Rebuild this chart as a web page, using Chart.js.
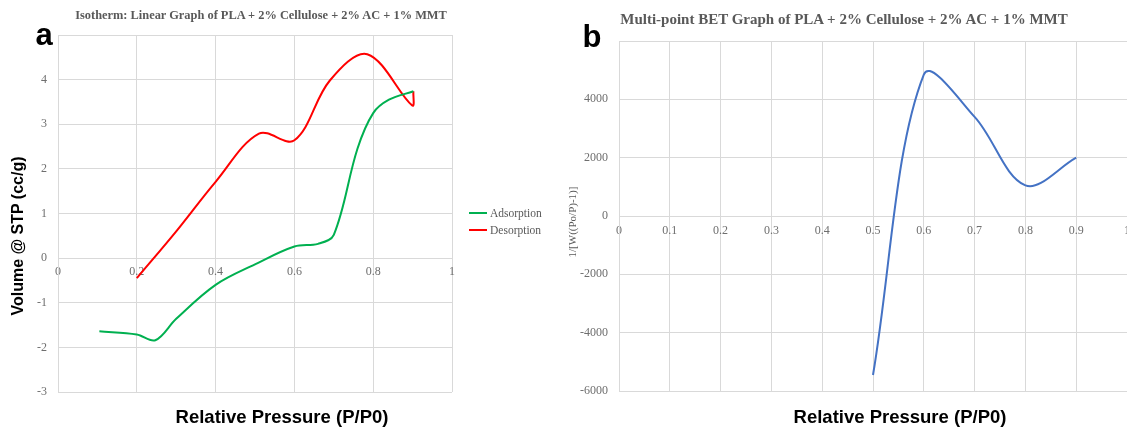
<!DOCTYPE html>
<html>
<head>
<meta charset="utf-8">
<script src="https://cdn.jsdelivr.net/npm/chart.js@4/dist/chart.umd.min.js"></script>
<style>
  html, body { margin: 0; padding: 0; background: #fff; }
  #wrap { position: relative; width: 1127px; height: 430px; overflow: hidden; background: #fff; }
  canvas { position: absolute; top: 0; }
  #isotherm { left: 0; }
  #bet { left: 560px; }
  .txt { position: absolute; white-space: nowrap; transform: translate(-50%, -50%); line-height: 1; }
  .rot { transform: translate(-50%, -50%) rotate(-90deg); }
  .sans { font-family: "Liberation Sans", Arial, sans-serif; font-weight: bold; color: #000; }
  .serif { font-family: "Liberation Serif", "Times New Roman", serif; color: #595959; }
  .legend { position: absolute; left: 469px; font-family: "Liberation Serif", "Times New Roman", serif; font-size: 11.5px; color: #595959; }
  .legend div { display: flex; align-items: center; height: 17px; }
  .legend span.swatch { display: inline-block; width: 18px; height: 2px; margin-right: 3px; }
</style>
</head>
<body>
<div id="wrap">
  <canvas id="isotherm" width="560" height="430"></canvas>
  <canvas id="bet" width="600" height="430"></canvas>

  <div class="txt serif" style="left:261px;top:15px;font-size:12.4px;font-weight:bold;">Isotherm: Linear Graph of PLA + 2% Cellulose + 2% AC + 1% MMT</div>
  <div class="txt serif" style="left:844px;top:19px;font-size:15px;font-weight:bold;">Multi-point BET Graph of PLA + 2% Cellulose + 2% AC + 1% MMT</div>

  <div class="txt sans" style="left:44px;top:34px;font-size:31px;">a</div>
  <div class="txt sans" style="left:592px;top:36px;font-size:31px;">b</div>

  <div class="txt sans rot" style="left:18px;top:236px;font-size:16px;">Volume @ STP (cc/g)</div>
  <div class="txt sans" style="left:282px;top:417px;font-size:18.5px;">Relative Pressure (P/P0)</div>

  <div class="txt serif rot" style="left:572px;top:222px;font-size:11px;">1/[W((Po/P)-1)]</div>
  <div class="txt sans" style="left:900px;top:417px;font-size:18.5px;">Relative Pressure (P/P0)</div>

  <div class="legend" id="legend" style="top:204px;"></div>
</div>

<script>
// isotherm (panel a)
const adsPressure = [0.105, 0.2, 0.247, 0.3, 0.4, 0.5, 0.6, 0.66, 0.7, 0.76, 0.8, 0.84, 0.902];
const adsVolume   = [-1.64, -1.71, -1.84, -1.36, -0.6, -0.14, 0.26, 0.32, 0.52, 2.45, 3.25, 3.55, 3.74];
const desPressure = [0.902, 0.899, 0.785, 0.69, 0.6, 0.51, 0.4, 0.3, 0.2];
const desVolume   = [3.74, 3.42, 4.57, 3.98, 2.64, 2.79, 1.71, 0.6, -0.45];
const isoXTicks = [0, 0.2, 0.4, 0.6, 0.8, 1];
const isoYTicks = [-3, -2, -1, 0, 1, 2, 3, 4];

// multi-point BET (panel b)
const betPressure = [0.5, 0.6, 0.7, 0.8, 0.9];
const betValue    = [-5450, 4850, 3400, 1050, 2000];
const betXTicks = [0, 0.1, 0.2, 0.3, 0.4, 0.5, 0.6, 0.7, 0.8, 0.9, 1];
const betYTicks = [-6000, -4000, -2000, 0, 2000, 4000];

const GRID = '#d9d9d9';
const TICK_FONT = { family: '"Liberation Serif", "Times New Roman", serif', size: 12 };
const TICK_COLOR = '#6e6e6e';

function toPoints(xs, ys) {
  return xs.map((x, i) => ({ x: x, y: ys[i] }));
}

function tickLabel(list) {
  return function (value) {
    const hit = list.find(t => Math.abs(t - value) < 1e-9);
    return hit === undefined ? '' : String(hit);
  };
}

function makeOptions(cfg) {
  return {
    responsive: false,
    animation: false,
    devicePixelRatio: 1,
    layout: { padding: cfg.padding },
    plugins: { legend: { display: false }, tooltip: { enabled: false } },
    elements: { point: { radius: 0 } },
    scales: {
      x: {
        type: 'linear',
        position: { y: 0 },
        min: cfg.xMin, max: cfg.xMax,
        grid: { color: GRID, drawTicks: false },
        border: { color: GRID },
        ticks: {
          stepSize: cfg.xStep, padding: cfg.xPad, font: TICK_FONT, color: TICK_COLOR,
          maxRotation: 0, autoSkip: false, callback: tickLabel(cfg.xTicks)
        }
      },
      y: {
        type: 'linear',
        min: cfg.yMin, max: cfg.yMax,
        grid: { color: GRID, drawTicks: false },
        border: { color: GRID },
        ticks: {
          stepSize: cfg.yStep, padding: cfg.yPad, font: TICK_FONT, color: TICK_COLOR,
          callback: tickLabel(cfg.yTicks)
        },
        afterFit: function (scale) { scale.width = cfg.yWidth; }
      }
    }
  };
}

const adsColor = '#00b050';
const desColor = '#ff0000';

new Chart(document.getElementById('isotherm'), {
  type: 'scatter',
  data: {
    datasets: [
      { label: 'Adsorption', data: toPoints(adsPressure, adsVolume), showLine: true,
        borderColor: adsColor, borderWidth: 2, tension: 0.35 },
      { label: 'Desorption', data: toPoints(desPressure, desVolume), showLine: true,
        borderColor: desColor, borderWidth: 2, tension: 0.35 }
    ]
  },
  options: makeOptions({
    padding: { left: 18, right: 108, top: 35, bottom: 38 },
    xMin: 0, xMax: 1, xStep: 0.2, xTicks: isoXTicks, xPad: 7,
    yMin: -3, yMax: 5, yStep: 1, yTicks: isoYTicks, yPad: 11, yWidth: 40
  })
});

new Chart(document.getElementById('bet'), {
  type: 'scatter',
  data: {
    datasets: [
      { label: 'BET', data: toPoints(betPressure, betValue), showLine: true,
        borderColor: '#4472c4', borderWidth: 2, tension: 0.35 }
    ]
  },
  options: makeOptions({
    padding: { left: 14, right: 33, top: 41, bottom: 39 },
    xMin: 0, xMax: 1, xStep: 0.1, xTicks: betXTicks, xPad: 8,
    yMin: -6000, yMax: 6000, yStep: 2000, yTicks: betYTicks, yPad: 11, yWidth: 45
  })
});

// legend for panel a
const legend = document.getElementById('legend');
[['Adsorption', adsColor], ['Desorption', desColor]].forEach(([name, color]) => {
  const row = document.createElement('div');
  row.innerHTML = '<span class="swatch" style="background:' + color + '"></span>' + name;
  legend.appendChild(row);
});
</script>
</body>
</html>
